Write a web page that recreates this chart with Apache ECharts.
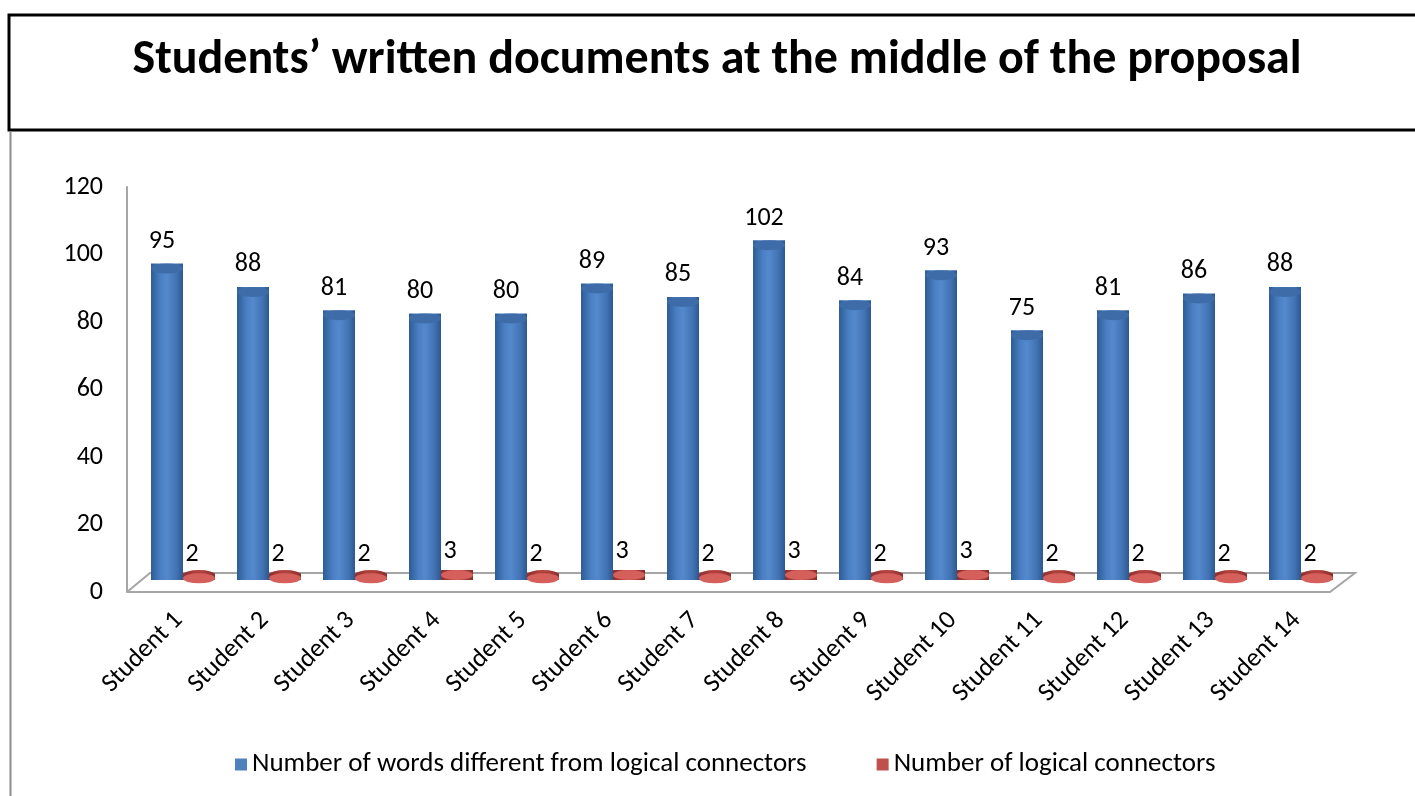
<!DOCTYPE html>
<html><head><meta charset="utf-8">
<script src="https://cdn.jsdelivr.net/npm/echarts@6/dist/echarts.min.js"></script>
<style>html,body{margin:0;padding:0;background:#fff}#c{width:1415px;height:796px}</style>
</head><body><div id="c"></div>
<script>
const titleText = 'Students’ written documents at the middle of the proposal';
const categories = ['Student 1','Student 2','Student 3','Student 4','Student 5','Student 6','Student 7','Student 8','Student 9','Student 10','Student 11','Student 12','Student 13','Student 14'];
const wordsValues = [95,88,81,80,80,89,85,102,84,93,75,81,86,88];
const connectorValues = [2,2,2,3,2,3,2,3,2,3,2,2,2,2];
const seriesNames = ['Number of words different from logical connectors','Number of logical connectors'];
const yMin = 0, yMax = 120, yInterval = 20;

const FONT = 'Calibri, Carlito, Lato, sans-serif';
const FS = 26;
const G = {left:140, top:187, width:1204, height:405};
const BW = 32;

const blueBody = new echarts.graphic.LinearGradient(0,0,1,0,[
  {offset:0,color:'#2d5c95'},{offset:0.3,color:'#4a7fc3'},{offset:0.5,color:'#5489cd'},{offset:0.8,color:'#4173b3'},{offset:1,color:'#2c5891'}]);
const redBody = new echarts.graphic.LinearGradient(0,0,1,0,[
  {offset:0,color:'#8e2f2c'},{offset:0.35,color:'#ad3e3b'},{offset:0.55,color:'#b3413e'},{offset:1,color:'#8c2e2b'}]);

const chart = echarts.init(document.getElementById('c'), null, {renderer:'canvas'});
const option = {
  backgroundColor:'#fff',
  animation:false,
  grid:{left:G.left, top:G.top, width:G.width, height:G.height, containLabel:false},
  legend:{
    left:230, top:746, itemWidth:12, itemHeight:12, itemGap:70, icon:'rect',
    textStyle:{fontFamily:FONT, fontSize:27, color:'#000'},
    data:[{name:seriesNames[0], itemStyle:{color:'#4f81bd'}},{name:seriesNames[1], itemStyle:{color:'#c0504d'}}]
  },
  xAxis:{
    type:'category', data:categories,
    axisLine:{show:false}, axisTick:{show:false},
    axisLabel:{rotate:45, margin:20, padding:[0,6,0,0], fontFamily:FONT, fontSize:FS, color:'#000', interval:0}
  },
  yAxis:[{
    type:'value', min:yMin, max:yMax, interval:yInterval, offset:13,
    axisLine:{show:true, lineStyle:{color:'#a6a6a6', width:2}},
    axisTick:{show:false}, splitLine:{show:false},
    axisLabel:{margin:24, fontFamily:FONT, fontSize:FS, color:'#000'}
  },{
    type:'value', min:-3.6, max:118, show:false, splitLine:{show:false}
  }],
  series:[
    {name:seriesNames[0], type:'bar', yAxisIndex:1, data:wordsValues, barWidth:BW, barGap:'0%', z:3,
     itemStyle:{color:blueBody},
     label:{show:true, position:'top', distance:9, offset:[-5,0], fontFamily:FONT, fontSize:FS, color:'#000'}},
    {name:seriesNames[1], type:'bar', yAxisIndex:1, data:connectorValues, barWidth:BW, barGap:'0%', z:3,
     itemStyle:{color:redBody},
     label:{show:true, position:'top', distance:6, offset:[-7,0], fontFamily:FONT, fontSize:FS, color:'#000'}},
    {type:'pictorialBar', yAxisIndex:1, data:wordsValues, symbol:'circle', symbolSize:[BW,10], symbolPosition:'end',
     symbolOffset:['-50%',0], z:4, itemStyle:{color:'#3e6ca8'}, silent:true},
    {type:'pictorialBar', yAxisIndex:1, data:wordsValues, symbol:'circle', symbolSize:[BW,10], symbolPosition:'start',
     symbolOffset:['-50%',0], z:2, itemStyle:{color:blueBody}, silent:true},
    {type:'pictorialBar', yAxisIndex:1, data:connectorValues, symbol:'circle', symbolSize:[BW,10], symbolPosition:'end',
     symbolOffset:['50%',0], z:4, itemStyle:{color:'#d45f5b'}, silent:true},
    {type:'pictorialBar', yAxisIndex:1, data:connectorValues, symbol:'circle', symbolSize:[BW,10], symbolPosition:'start',
     symbolOffset:['50%',0], z:2, itemStyle:{color:redBody}, silent:true}
  ]
};
chart.setOption(option);

// decorations: title box, left frame line, 3D floor
const y0 = chart.convertToPixel({yAxisIndex:0}, 0);
const xl = G.left - 13, xr = G.left + G.width;
const floor = [[xl, y0],[xr - 14, y0],[xr + 11, y0 - 19],[G.left + 10, y0 - 19],[xl, y0]];
chart.setOption({
  graphic:[
    {type:'rect', z:0, shape:{x:9, y:15, width:1420, height:115}, style:{fill:'none', stroke:'#000', lineWidth:3}},
    {type:'line', z:0, shape:{x1:10.5, y1:131, x2:10.5, y2:796}, style:{stroke:'#8c8c8c', lineWidth:2}},
    {type:'polyline', z:0, shape:{points:floor}, style:{fill:'#fff', stroke:'#a6a6a6', lineWidth:2}},
    {type:'text', z:5, x:717, y:61, style:{text:titleText, font:'bold 48px ' + FONT, fill:'#000', textAlign:'center', textVerticalAlign:'middle'}}
  ]
});
</script></body></html>
